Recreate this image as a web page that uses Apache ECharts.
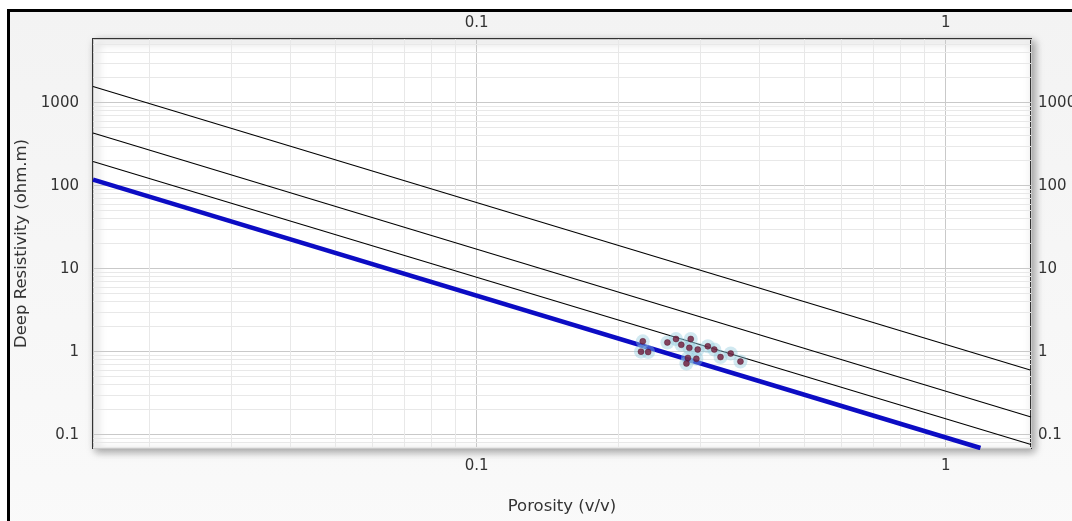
<!DOCTYPE html>
<html>
<head>
<meta charset="utf-8">
<script src="https://cdn.jsdelivr.net/npm/echarts@6/dist/echarts.min.js"></script>
<style>
  html, body { margin: 0; padding: 0; background: #ffffff; overflow: hidden; }
  #frame {
    position: absolute; left: 6.5px; top: 9px; width: 1200px; height: 700px;
    border-left: 3px solid #000; border-top: 3px solid #000;
    background: linear-gradient(#f3f3f3, #fcfcfc);
  }
  #chart { position: absolute; left: 0; top: 0; width: 1072px; height: 521px; }
</style>
</head>
<body>
<div id="frame"></div>
<div id="chart"></div>
<script>
// Axis ranges
const porosityRange = [0.0152, 1.52];
const resistivityRange = [0.069, 5850];

// Saturation lines: end points [porosity, resistivity]
const lineSw1X = [0.0152, 1.186];          // blue, Sw = 1 line
const lineSw1Y = [118, 0.069];
const lineAX = [0.0152, 1.52];             // upper black line
const lineAY = [1570, 0.596];
const lineBX = [0.0152, 1.52];             // middle black line
const lineBY = [432, 0.163];
const lineCX = [0.0152, 1.52];             // lower black line
const lineCY = [196, 0.076];

// Sample points
const pointPorosity = [0.226, 0.224, 0.232, 0.255, 0.266, 0.273, 0.286, 0.284, 0.296,
                       0.282, 0.294, 0.280, 0.311, 0.321, 0.331, 0.348, 0.365];
const pointResistivity = [1.33, 1.00, 0.99, 1.29, 1.42, 1.21, 1.42, 1.11, 1.06,
                          0.84, 0.82, 0.72, 1.16, 1.06, 0.86, 0.95, 0.76];

const xName = 'Porosity (v/v)';
const yName = 'Deep Resistivity (ohm.m)';

function pairs(xs, ys) { return xs.map((x, i) => [x, ys[i]]); }
function minorValues(range) {
  const out = [];
  for (let d = -3; d <= 4; d++) {
    for (let k = 2; k <= 9; k++) {
      const v = +(k * Math.pow(10, d)).toPrecision(6);
      if (v > range[0] && v < range[1]) out.push(v);
    }
  }
  return out;
}
function powLabel(v) {
  const l = Math.log10(v);
  return Math.abs(l - Math.round(l)) < 1e-6 ? String(+v.toPrecision(6)) : '';
}

const labelFont = { fontFamily: 'DejaVu Sans', fontSize: 15, color: '#333' };
const nameFont = { fontFamily: 'DejaVu Sans', fontSize: 16.5, color: '#333' };

const chart = echarts.init(document.getElementById('chart'), null, { renderer: 'canvas' });

const minorLineStyle = { color: '#e8e8e8', width: 1, type: 'solid' };
const minorData = minorValues(porosityRange).map(v => ({ xAxis: v }))
  .concat(minorValues(resistivityRange).map(v => ({ yAxis: v })));

function xAxisBase(pos) {
  return {
    type: 'log', logBase: 10, position: pos,
    min: porosityRange[0], max: porosityRange[1],
    axisLine: { show: false }, axisTick: { show: false },
    axisLabel: Object.assign({ formatter: powLabel, margin: pos === 'top' ? 8 : 11 }, labelFont),
  };
}
function yAxisBase(pos) {
  return {
    type: 'log', logBase: 10, position: pos,
    min: resistivityRange[0], max: resistivityRange[1],
    axisLine: { show: false }, axisTick: { show: false },
    axisLabel: Object.assign({ formatter: powLabel, margin: pos === 'left' ? 14 : 7 }, labelFont),
  };
}

const xBottom = Object.assign(xAxisBase('bottom'), {
  name: xName, nameLocation: 'middle', nameGap: 50, nameTextStyle: nameFont,
  splitLine: { show: true, lineStyle: { color: '#c9c9c9', width: 1 } }
});
const xTop = Object.assign(xAxisBase('top'), { splitLine: { show: false } });
const yLeft = Object.assign(yAxisBase('left'), {
  name: yName, nameLocation: 'middle', nameGap: 60, nameTextStyle: nameFont,
  splitLine: { show: true, lineStyle: { color: '#c9c9c9', width: 1 } }
});
const yRight = Object.assign(yAxisBase('right'), { splitLine: { show: false } });

function blackLine(xs, ys) {
  return {
    type: 'line', data: pairs(xs, ys), xAxisIndex: 0, yAxisIndex: 0,
    showSymbol: false, symbol: 'none', z: 3, silent: true,
    lineStyle: { color: '#000', width: 1.1 }
  };
}

chart.setOption({
  animation: false,
  backgroundColor: 'transparent',
  grid: {
    left: 93, top: 39, width: 938, height: 409,
    show: true, backgroundColor: '#ffffff',
    borderColor: '#333', borderWidth: 2,
    shadowBlur: 8, shadowColor: 'rgba(0,0,0,0.35)', shadowOffsetX: 3, shadowOffsetY: 3,
    outerBoundsMode: 'none', containLabel: false
  },
  xAxis: [xBottom, xTop],
  yAxis: [yLeft, yRight],
  series: [
    {
      type: 'line', data: [], xAxisIndex: 0, yAxisIndex: 0, z: 1, silent: true,
      markLine: {
        z: 1, silent: true, symbol: 'none', label: { show: false },
        lineStyle: minorLineStyle, emphasis: { disabled: true },
        data: minorData
      }
    },
    blackLine(lineAX, lineAY),
    blackLine(lineBX, lineBY),
    blackLine(lineCX, lineCY),
    {
      type: 'line', data: pairs(lineSw1X, lineSw1Y), xAxisIndex: 0, yAxisIndex: 0,
      showSymbol: false, symbol: 'none', z: 4, silent: true,
      lineStyle: { color: '#0c0cc4', width: 4.5 }
    },
    {
      type: 'scatter', data: pairs(pointPorosity, pointResistivity), xAxisIndex: 0, yAxisIndex: 0,
      symbol: 'circle', symbolSize: 14, z: 5, silent: true,
      itemStyle: { color: 'rgba(140,200,220,0.5)' }
    },
    {
      type: 'scatter', data: pairs(pointPorosity, pointResistivity), xAxisIndex: 0, yAxisIndex: 0,
      symbol: 'circle', symbolSize: 6, z: 6, silent: true,
      itemStyle: { color: '#6e1838', borderColor: '#4a0c25', borderWidth: 0.5 }
    }
  ]
});
</script>
</body>
</html>
